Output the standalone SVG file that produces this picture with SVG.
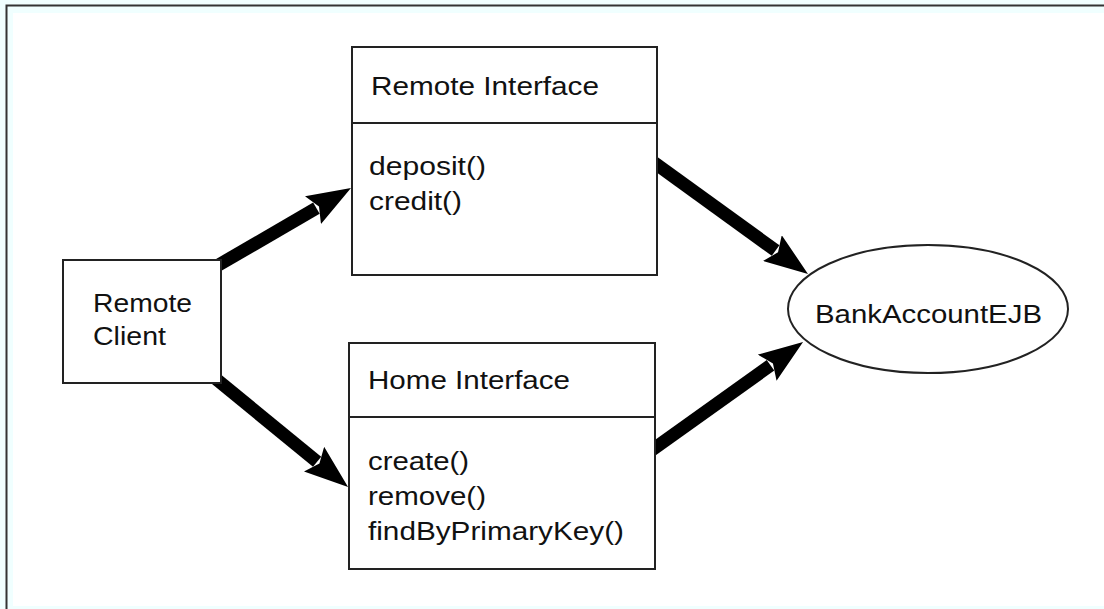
<svg xmlns="http://www.w3.org/2000/svg" width="1104" height="609" viewBox="0 0 1104 609">
  <style>
    .box { fill: #ffffff; stroke: #222222; stroke-width: 2; }
    .div { stroke: #222222; stroke-width: 2; }
    .txt { font-family: "Liberation Sans", Arial, sans-serif; font-size: 26px; fill: #111111; }
    .conn { stroke: #000000; stroke-width: 13; fill: none; marker-end: url(#head); }
  </style>
  <defs>
    <marker id="head" viewBox="-4 0 44 32" refX="0" refY="16" markerWidth="44" markerHeight="32" markerUnits="userSpaceOnUse" orient="auto">
      <path d="M-4,0 L40,16 L-4,32 L3,16 Z" fill="#000000"/>
    </marker>
  </defs>
  <rect x="0" y="0" width="1104" height="609" fill="#f0ffff"/>
  <path d="M6.5,609 L6.5,5.5 L1104,5.5" fill="none" stroke="#333333" stroke-width="2"/>
  <rect x="13" y="13" width="1091" height="593" fill="#ffffff"/>

  <g id="connectors">
    <!-- Client -> Remote Interface: S(210,270) T(351,188) -->
    <path class="conn" d="M210,270 L316.4,208.1"/>
    <!-- Client -> Home Interface: S(210,374) T(348,487) -->
    <path class="conn" d="M210,374 L317.1,461.7"/>
    <!-- Remote Interface -> EJB: S(645,156) T(808,274) -->
    <path class="conn" d="M645,156 L775.6,250.5"/>
    <!-- Home Interface -> EJB: S(645,455) T(803,342) -->
    <path class="conn" d="M645,455 L770.5,365.3"/>
  </g>

  <g id="remote-client">
    <rect class="box" x="63" y="260" width="158" height="123"/>
    <text class="txt" x="93" y="312" textLength="99" lengthAdjust="spacingAndGlyphs">Remote</text>
    <text class="txt" x="93" y="345" textLength="73" lengthAdjust="spacingAndGlyphs">Client</text>
  </g>

  <g id="remote-interface">
    <rect class="box" x="352" y="47" width="305" height="228"/>
    <line class="div" x1="352" y1="123" x2="657" y2="123"/>
    <text class="txt" x="371" y="95" textLength="228" lengthAdjust="spacingAndGlyphs">Remote Interface</text>
    <text class="txt" x="369" y="175" textLength="117" lengthAdjust="spacingAndGlyphs">deposit()</text>
    <text class="txt" x="369" y="210" textLength="93" lengthAdjust="spacingAndGlyphs">credit()</text>
  </g>

  <g id="home-interface">
    <rect class="box" x="349" y="343" width="306" height="226"/>
    <line class="div" x1="349" y1="417" x2="655" y2="417"/>
    <text class="txt" x="368" y="389" textLength="202" lengthAdjust="spacingAndGlyphs">Home Interface</text>
    <text class="txt" x="368" y="470" textLength="101" lengthAdjust="spacingAndGlyphs">create()</text>
    <text class="txt" x="368" y="505" textLength="118" lengthAdjust="spacingAndGlyphs">remove()</text>
    <text class="txt" x="368" y="540" textLength="256" lengthAdjust="spacingAndGlyphs">findByPrimaryKey()</text>
  </g>

  <g id="bank-account-ejb">
    <ellipse class="box" cx="928" cy="309" rx="140" ry="64"/>
    <text class="txt" x="815" y="323" textLength="227" lengthAdjust="spacingAndGlyphs">BankAccountEJB</text>
  </g>
</svg>
